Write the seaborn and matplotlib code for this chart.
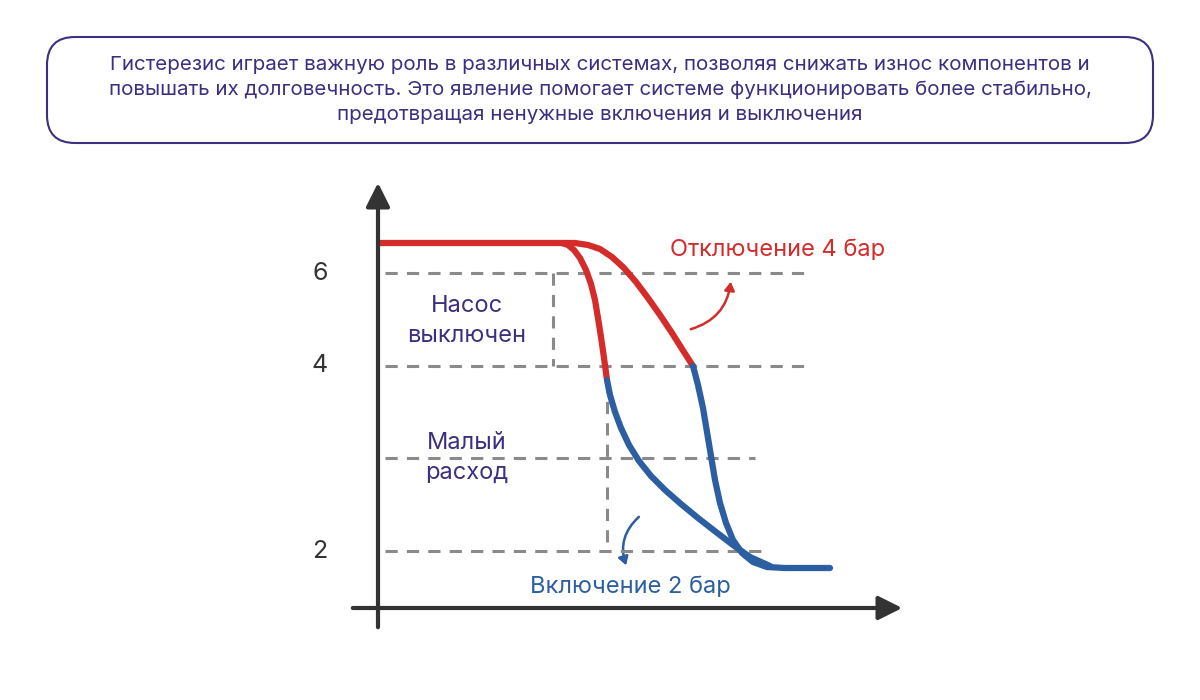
import matplotlib
matplotlib.use("Agg")
import matplotlib.pyplot as plt
import seaborn as sns
from matplotlib.patches import FancyBboxPatch, FancyArrowPatch

sns.set_theme(style="white")
plt.rcParams['font.family'] = ['Inter', 'DejaVu Sans']

# diagram coordinates (horizontal position, pressure-axis position)
red_flat_x = [380, 562]
red_flat_y = [243, 243]
red_inner_x = [562, 568, 574, 580, 586, 591, 595, 598, 601, 604, 607]
red_inner_y = [243, 245, 250, 258, 270, 284, 300, 318, 337, 358, 380]
red_outer_x = [562, 575, 588, 600, 612, 624, 636, 648, 660, 672, 684, 693]
red_outer_y = [243, 243, 245, 249, 257, 268, 282, 298, 315, 333, 352, 366]
blue_inner_x = [607, 610, 615, 621, 629, 639, 651, 665, 681, 698, 716, 733, 750, 770]
blue_inner_y = [380, 395, 412, 428, 445, 461, 476, 490, 504, 518, 532, 545, 557, 566]
blue_outer_x = [693, 698, 703, 707, 711, 715, 720, 726, 733, 742, 753, 767, 785, 830]
blue_outer_y = [366, 385, 408, 432, 456, 480, 503, 523, 540, 553, 562, 567, 568, 568]
tick_labels = ["6", "4", "2"]
tick_pos = [273, 366, 551]
dash_h = [(273, 385, 805), (366, 385, 805), (458, 385, 755), (551, 385, 770)]
dash_v = [(553, 273, 366), (607, 380, 551)]

RED = "#d42b2b"
BLUE = "#2c5fa2"
PURP = "#3b2f80"
GREY = "#8a8a8a"

fig = plt.figure(figsize=(12, 7), dpi=100)
ax = fig.add_axes([0, 0, 1, 1])
ax.set_xlim(0, 1200)
ax.set_ylim(700, 0)
ax.axis("off")

for y, x0, x1 in dash_h:
    ax.plot([x0, x1], [y, y], ls=(0, (4, 3)), color=GREY, lw=2.2)
for x, y0, y1 in dash_v:
    ax.plot([x, x], [y0, y1], ls=(0, (4, 3)), color=GREY, lw=2.2)

for xs, ys, c in [(red_flat_x, red_flat_y, RED), (red_inner_x, red_inner_y, RED),
                  (red_outer_x, red_outer_y, RED), (blue_inner_x, blue_inner_y, BLUE),
                  (blue_outer_x, blue_outer_y, BLUE)]:
    sns.lineplot(x=xs, y=ys, sort=False, color=c, lw=4.5, ax=ax,
                 solid_capstyle="round", solid_joinstyle="round")

# axes with arrows
ax.annotate("", xy=(378, 180), xytext=(378, 630),
            arrowprops=dict(arrowstyle="-|>,head_width=0.6,head_length=1.2", color="#333", lw=3))
ax.annotate("", xy=(905, 608), xytext=(350, 608),
            arrowprops=dict(arrowstyle="-|>,head_width=0.6,head_length=1.2", color="#333", lw=3))

for t, p in zip(tick_labels, tick_pos):
    ax.text(320, p, t, fontsize=18, color="#333", ha="center", va="center")

ax.text(467, 321, "Насос\nвыключен", fontsize=17, color=PURP, ha="center", va="center", linespacing=1.45)
ax.text(467, 458, "Малый\nрасход", fontsize=17, color=PURP, ha="center", va="center", linespacing=1.45)
ax.text(778, 250, "Отключение 4 бар", fontsize=17, color=RED, ha="center", va="center")
ax.text(630, 587, "Включение 2 бар", fontsize=17, color=BLUE, ha="center", va="center")

ax.add_patch(FancyArrowPatch((688, 330), (731, 279), connectionstyle="arc3,rad=0.35",
                             arrowstyle="-|>,head_width=3,head_length=5", color=RED, lw=1.8))
ax.add_patch(FancyArrowPatch((641, 515), (627, 568), connectionstyle="arc3,rad=0.35",
                             arrowstyle="-|>,head_width=3,head_length=5", color=BLUE, lw=1.8))

box = FancyBboxPatch((47, 37), 1106, 106, boxstyle="round,pad=0,rounding_size=28",
                     fc="white", ec=PURP, lw=1.5)
ax.add_patch(box)
ax.text(600, 90, "Гистерезис играет важную роль в различных системах, позволяя снижать износ компонентов и\n"
        "повышать их долговечность. Это явление помогает системе функционировать более стабильно,\n"
        "предотвращая ненужные включения и выключения",
        fontsize=14.8, color=PURP, ha="center", va="center", linespacing=1.45)

fig.savefig("out.png", dpi=100)
